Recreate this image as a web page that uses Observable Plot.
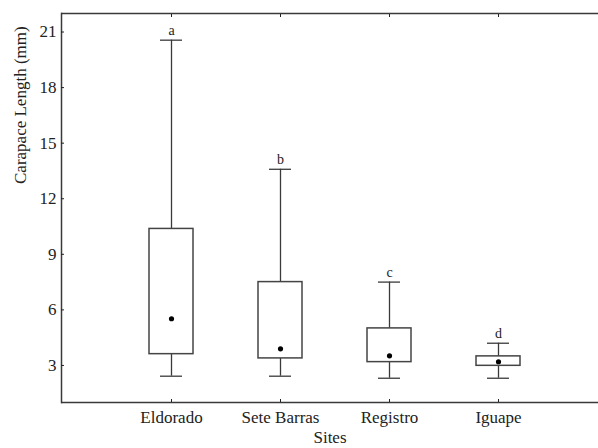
<!DOCTYPE html>
<html>
<head>
<meta charset="utf-8">
<script src="https://cdn.jsdelivr.net/npm/d3@7"></script>
<script src="https://cdn.jsdelivr.net/npm/@observablehq/plot@0.6"></script>
<style>
  html, body { margin: 0; padding: 0; background: #fff; }
  #chart svg { display: block; }
</style>
</head>
<body>
<div id="chart"></div>
<script>
const sites = ["Eldorado", "Sete Barras", "Registro", "Iguape"];
const whiskerLow = [2.42, 2.42, 2.31, 2.31];
const boxLow = [3.61, 3.38, 3.18, 2.98];
const median = [5.52, 3.9, 3.52, 3.2];
const boxHigh = [10.37, 7.5, 5.0, 3.49];
const whiskerHigh = [20.56, 13.59, 7.5, 4.2];
const groupLetters = ["a", "b", "c", "d"];
const yTicks = [3, 6, 9, 12, 15, 18, 21];

const data = sites.map((s, i) => ({
  site: s, wl: whiskerLow[i], bl: boxLow[i], med: median[i],
  bh: boxHigh[i], wh: whiskerHigh[i], letter: groupLetters[i]
}));

const font = "Liberation Serif";
const lineColor = "#3a3a3a";

const chart = Plot.plot({
  width: 598,
  height: 448,
  marginLeft: 61,
  marginRight: 0,
  marginTop: 13,
  marginBottom: 46,
  style: { fontFamily: font, fontSize: "17px", color: "#222" },
  x: { type: "band", domain: sites, range: [61, 608.2], paddingInner: 0.598, paddingOuter: 0.8, label: null },
  y: { domain: [1, 22], label: null },
  marks: [
    Plot.ruleY([1, 22], { stroke: lineColor, strokeWidth: 1.5 }),
    Plot.frame({ anchor: "left", stroke: lineColor, strokeWidth: 1.5 }),
    Plot.axisY({ ticks: yTicks, tickSize: -3, tickPadding: 8, fontSize: 17, fontFamily: font }),
    Plot.axisX({ anchor: "bottom", tickSize: -3, tickPadding: 11, fontSize: 17, fontFamily: font }),
    Plot.axisX({ anchor: "top", tickSize: -3, tickFormat: () => "" }),
    Plot.ruleX(data, { x: "site", y1: "wl", y2: "bl", stroke: lineColor, strokeWidth: 1.3 }),
    Plot.ruleX(data, { x: "site", y1: "bh", y2: "wh", stroke: lineColor, strokeWidth: 1.3 }),
    Plot.tickY(data, { x: "site", y: "wl", insetLeft: 11, insetRight: 11, stroke: lineColor, strokeWidth: 1.3 }),
    Plot.tickY(data, { x: "site", y: "wh", insetLeft: 11, insetRight: 11, stroke: lineColor, strokeWidth: 1.3 }),
    Plot.barY(data, { x: "site", y1: "bl", y2: "bh", fill: "#fff", stroke: "#444", strokeWidth: 1.5 }),
    Plot.dot(data, { x: "site", y: "med", r: 2.6, fill: "#000", stroke: null }),
    Plot.text(data, { x: "site", y: "wh", text: "letter", fontSize: 14, fontFamily: font, fill: "#222", lineAnchor: "bottom", dy: -5 }),
    Plot.text(["Carapace Length (mm)"], { frameAnchor: "left", rotate: -90, dx: -41, dy: -24, fontSize: 17, fontFamily: font, fill: "#222" }),
    Plot.text(["Sites"], { frameAnchor: "bottom", dx: 0, dy: 35, fontSize: 17, fontFamily: font, fill: "#222", lineAnchor: "middle" })
  ]
});
chart.querySelectorAll("text, g").forEach(el => {
  el.setAttribute("font-family", font);
  el.style.fontFamily = "'Liberation Serif', serif";
});
document.getElementById("chart").appendChild(chart);
</script>
</body>
</html>
